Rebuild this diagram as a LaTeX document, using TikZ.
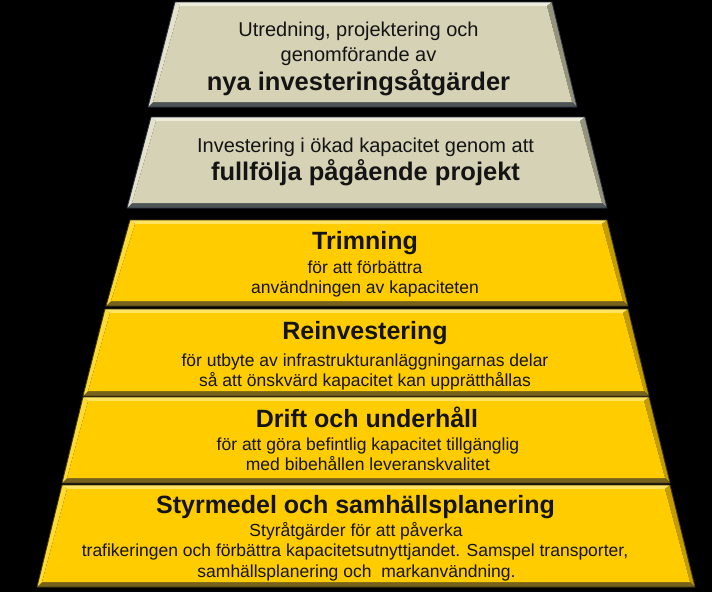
\documentclass[tikz,border=0pt]{standalone}
\usepackage{fontspec}
\setmainfont{Liberation Sans}
\definecolor{grface}{RGB}{214,210,182}
\definecolor{grtop}{RGB}{238,236,218}
\definecolor{grleft}{RGB}{228,225,204}
\definecolor{grright}{RGB}{150,147,124}
\definecolor{grbot}{RGB}{78,84,86}
\definecolor{gredge}{RGB}{40,50,70}
\definecolor{yeface}{RGB}{255,204,0}
\definecolor{yetop}{RGB}{255,228,100}
\definecolor{yeleft}{RGB}{255,218,50}
\definecolor{yeright}{RGB}{196,156,0}
\definecolor{yebot}{RGB}{118,98,28}
\definecolor{yeedge}{RGB}{70,60,20}
\definecolor{inktxt}{RGB}{20,20,20}
\tikzset{
  lineTxt/.style={anchor=base, inner sep=0pt, text=inktxt},
  grayTxt/.style={lineTxt, font=\fontsize{20}{24}\selectfont},
  grayBold/.style={lineTxt, font=\bfseries\fontsize{25.5}{30}\selectfont},
  yelBold/.style={lineTxt, font=\bfseries\fontsize{25}{30}\selectfont},
  yelTxt/.style={lineTxt, font=\fontsize{17.5}{21}\selectfont},
}
\newcommand\pyrlayer[8]{%
  \coordinate (#8A) at (#2,#6);
  \coordinate (#8B) at (#3,#6);
  \coordinate (#8C) at (#4,#7);
  \coordinate (#8D) at (#5,#7);
  \coordinate (#8a) at ({#2+5},{#6+4});
  \coordinate (#8b) at ({#3-5},{#6+4});
  \coordinate (#8c) at ({#4-5},{#7-5});
  \coordinate (#8d) at ({#5+5},{#7-5});
  \fill[#1top] (#8A) -- (#8B) -- (#8b) -- (#8a) -- cycle;
  \fill[#1right] (#8B) -- (#8C) -- (#8c) -- (#8b) -- cycle;
  \fill[#1bot] (#8C) -- (#8D) -- (#8d) -- (#8c) -- cycle;
  \fill[#1left] (#8D) -- (#8A) -- (#8a) -- (#8d) -- cycle;
  \fill[#1face] (#8a) -- (#8b) -- (#8c) -- (#8d) -- cycle;
  \draw[#1edge, line width=0.8pt, line join=round] (#8A) -- (#8B) -- (#8C) -- (#8D) -- cycle;
}
\begin{document}
\begin{tikzpicture}[x=1pt,y=-1pt]
\useasboundingbox (0,0) rectangle (712,592);
\fill[black] (0,0) rectangle (712,592);
% layers
\pyrlayer{gr}{175}{552}{577}{148}{2}{107}{L1}
\pyrlayer{gr}{151}{585}{607}{127}{117}{208}{L2}
\pyrlayer{ye}{130}{607}{628}{106}{220}{306}{L3}
\pyrlayer{ye}{105}{628}{649}{83}{309}{396}{L4}
\pyrlayer{ye}{83}{649}{670}{62}{397}{483}{L5}
\pyrlayer{ye}{62}{670}{695}{37}{485}{587}{L6}
% layer 1
\node[grayTxt] (t1a) at (358.5,36) {Utredning, projektering och};
\node[grayTxt] (t1b) at (358.5,61) {genomförande av};
\node[grayBold] (t1c) at (358.5,90) {nya investeringsåtgärder};
% layer 2
\node[grayTxt] (t2a) at (365.5,152) {Investering i ökad kapacitet genom att};
\node[grayBold] (t2b) at (365.5,180) {fullfölja pågående projekt};
% layer 3
\node[yelBold] (t3a) at (365,249) {Trimning};
\node[yelTxt] (t3b) at (365,273) {för att förbättra};
\node[yelTxt] (t3c) at (365,293) {användningen av kapaciteten};
% layer 4
\node[yelBold] (t4a) at (365,339) {Reinvestering};
\node[yelTxt] (t4b) at (365,366.5) {för utbyte av infrastrukturanläggningarnas delar};
\node[yelTxt] (t4c) at (365,386.5) {så att önskvärd kapacitet kan upprätthållas};
% layer 5
\node[yelBold] (t5a) at (367,427) {Drift och underhåll};
\node[yelTxt] (t5b) at (368,450) {för att göra befintlig kapacitet tillgänglig};
\node[yelTxt] (t5c) at (368,470) {med bibehållen leveranskvalitet};
% layer 6
\node[yelBold] (t6a) at (355.5,513) {Styrmedel och samhällsplanering};
\node[yelTxt] (t6b) at (356,536) {Styråtgärder för att påverka};
\node[yelTxt] (t6c) at (355,556) {trafikeringen och förbättra kapacitetsutnyttjandet. Samspel transporter,};
\node[yelTxt] (t6d) at (356.5,577.5) {samhällsplanering och\ \ markanvändning.};
\end{tikzpicture}
\end{document}
